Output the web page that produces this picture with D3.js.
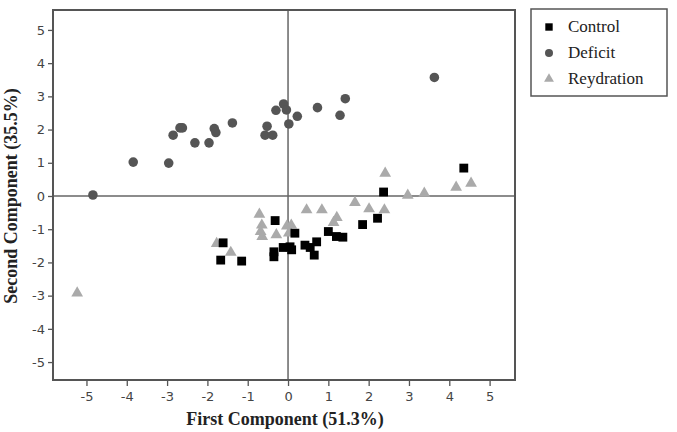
<!DOCTYPE html>
<meta charset="utf-8">
<style>
body { margin: 0; background: #fff; }
.frame { fill: none; stroke: #555; stroke-width: 2px; }
.zero { stroke: #666; stroke-width: 1.5px; }
.axis path { display: none; }
.axis line { stroke: #555; stroke-width: 1.3px; }
.axis text { fill: #444; font-family: "DejaVu Sans", sans-serif; font-size: 13px; }
.title { font-family: "Liberation Serif", serif; font-weight: bold; font-size: 18px; fill: #222; }
.lab { font-family: "Liberation Serif", serif; font-weight: normal; font-size: 17px; fill: #222; }
</style>
<body>
<script src="https://cdn.jsdelivr.net/npm/d3@7"></script>
<script>

// PCA scores: [first component, second component]
var control = [
  [-1.61, -1.41], [-1.67, -1.93], [-1.15, -1.96], [-0.32, -0.74],
  [-0.35, -1.68], [-0.35, -1.83], [-0.12, -1.55], [0.05, -1.53],
  [0.09, -1.62], [0.17, -1.12], [0.42, -1.48], [0.55, -1.55],
  [0.71, -1.38], [0.65, -1.78], [1.0, -1.07], [1.2, -1.22],
  [1.36, -1.24], [1.85, -0.86], [2.22, -0.67], [2.37, 0.12], [4.36, 0.84]
];
var deficit = [
  [-4.84, 0.03], [-3.84, 1.02], [-2.96, 0.99], [-2.85, 1.83],
  [-2.68, 2.05], [-2.62, 2.05], [-2.31, 1.6], [-1.96, 1.6],
  [-1.83, 2.03], [-1.79, 1.91], [-1.38, 2.2], [-0.57, 1.83],
  [-0.52, 2.1], [-0.38, 1.83], [-0.3, 2.58], [-0.11, 2.77],
  [-0.04, 2.59], [0.02, 2.17], [0.23, 2.4], [0.73, 2.66],
  [1.29, 2.43], [1.42, 2.93], [3.63, 3.57]
];
var reydration = [
  [-5.23, -2.92], [-1.77, -1.43], [-1.42, -1.7], [-0.71, -0.55],
  [-0.65, -0.88], [-0.68, -1.07], [-0.64, -1.22], [-0.29, -1.17],
  [-0.03, -0.91], [0.08, -0.88], [0.02, -1.12], [0.46, -0.42],
  [0.84, -0.42], [1.21, -0.65], [1.13, -0.8], [1.66, -0.2],
  [2.01, -0.39], [2.39, -0.42], [2.41, 0.68], [2.97, 0.02],
  [3.38, 0.08], [4.17, 0.26], [4.54, 0.38]
];

var xTicks = [-5, -4, -3, -2, -1, 0, 1, 2, 3, 4, 5];
var yTicks = [-5, -4, -3, -2, -1, 0, 1, 2, 3, 4, 5];
var seriesNames = ["Control", "Deficit", "Reydration"];
var xTitle = "First Component (51.3%)";
var yTitle = "Second Component (35.5%)";

var margin = {top: 10, right: 162, bottom: 52, left: 53},
    width = 677 - margin.left - margin.right,
    height = 432 - margin.top - margin.bottom;

var x = d3.scaleLinear().domain([-5.83, 5.63]).range([0, width]);
var y = d3.scaleLinear().domain([-5.54, 5.6]).range([height, 0]);

// plain hyphen for negatives, like the original
var plain = function(d) { return String(d); };

var svg = d3.select("body").append("svg")
    .attr("width", 677)
    .attr("height", 432);

var g = svg.append("g")
    .attr("transform", "translate(" + margin.left + "," + margin.top + ")");

// zero reference lines
g.append("line").attr("class", "zero")
    .attr("x1", 0).attr("x2", width)
    .attr("y1", y(0)).attr("y2", y(0));
g.append("line").attr("class", "zero")
    .attr("x1", x(0)).attr("x2", x(0))
    .attr("y1", 0).attr("y2", height);

g.append("g")
    .attr("class", "axis")
    .attr("transform", "translate(0," + height + ")")
    .call(d3.axisBottom(x).tickValues(xTicks).tickFormat(plain).tickSize(6).tickPadding(6));

g.append("g")
    .attr("class", "axis")
    .call(d3.axisLeft(y).tickValues(yTicks).tickFormat(plain).tickSize(5).tickPadding(3));

g.append("rect").attr("class", "frame")
    .attr("width", width).attr("height", height);

var series = [
  {name: seriesNames[0], data: control, shape: d3.symbolSquare, size: 78, color: "#000"},
  {name: seriesNames[1], data: deficit, shape: d3.symbolCircle, size: 72, color: "#555"},
  {name: seriesNames[2], data: reydration, shape: d3.symbolTriangle, size: 60, color: "#aaa"}
];

// draw reydration first, then control, deficit on top
[2, 0, 1].forEach(function(i) {
  var s = series[i];
  g.selectAll(".pt" + i)
      .data(s.data)
    .enter().append("path")
      .attr("class", "pt" + i)
      .attr("d", d3.symbol().type(s.shape).size(s.size))
      .attr("fill", s.color)
      .attr("transform", function(d) { return "translate(" + x(d[0]) + "," + y(d[1]) + ")"; });
});

svg.append("text")
    .attr("class", "title")
    .attr("x", margin.left + x(0) - 3)
    .attr("y", 425)
    .attr("text-anchor", "middle")
    .text(xTitle);

svg.append("text")
    .attr("class", "title")
    .attr("transform", "translate(17," + (margin.top + y(0)) + ") rotate(-90)")
    .attr("text-anchor", "middle")
    .text(yTitle);

// legend
var legend = svg.append("g")
    .attr("transform", "translate(531,9)");

legend.append("rect")
    .attr("width", 136).attr("height", 87)
    .attr("fill", "#fff").attr("stroke", "#555").attr("stroke-width", 1.5);

series.forEach(function(s, i) {
  var row = legend.append("g")
      .attr("transform", "translate(0," + (18 + i * 26) + ")");
  row.append("path")
      .attr("d", d3.symbol().type(s.shape).size(s.size * 0.7))
      .attr("fill", s.color)
      .attr("transform", "translate(18,0)");
  row.append("text")
      .attr("class", "lab")
      .attr("x", 37).attr("y", 5)
      .text(s.name);
});

</script>
</body>
